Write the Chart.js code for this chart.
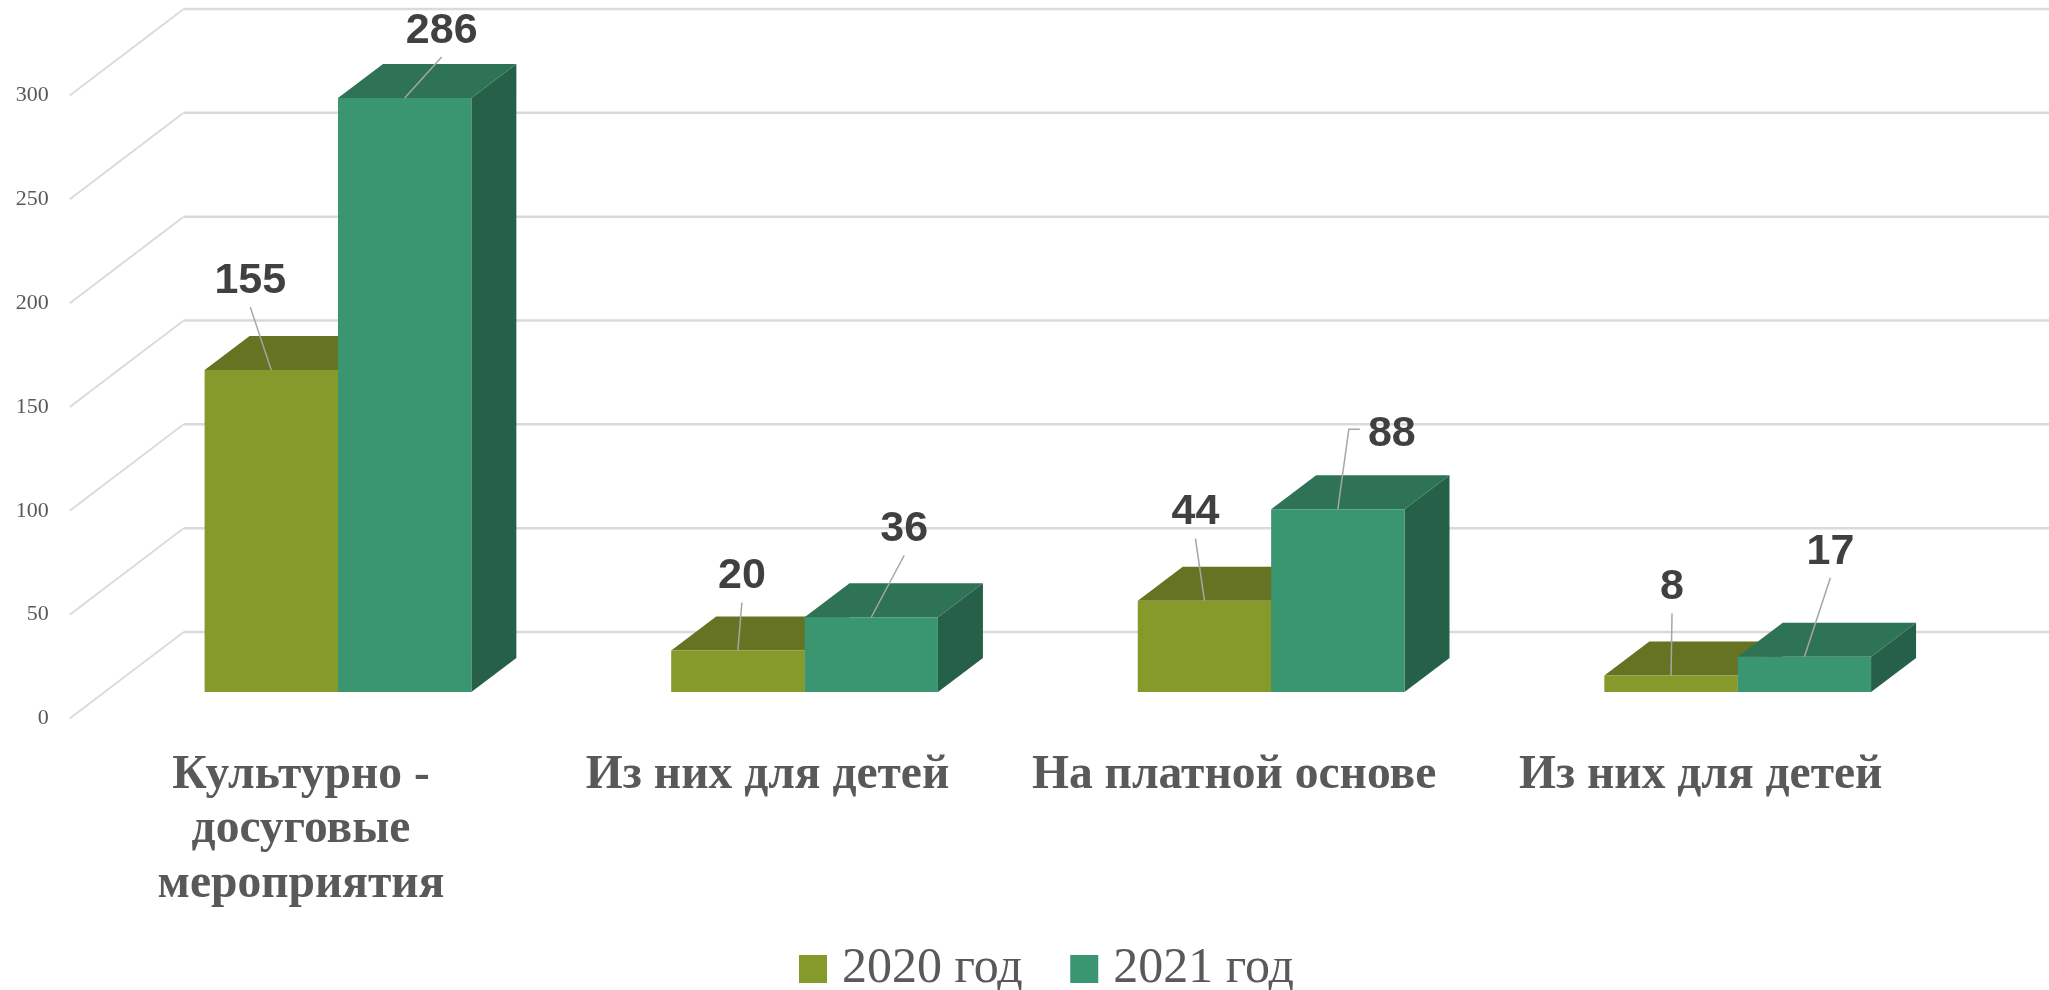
<!DOCTYPE html>
<html lang="ru">
<head>
<meta charset="utf-8">
<title>Мероприятия</title>
<script src="https://cdn.jsdelivr.net/npm/chart.js@4"></script>
<style>
  html, body { margin: 0; padding: 0; background: #fff; }
  canvas { display: block; }
</style>
</head>
<body>
<canvas id="chart" width="2049" height="990"></canvas>
<script>
const categories = [
    ['Культурно -', 'досуговые', 'мероприятия'],
    'Из них для детей',
    'На платной основе',
    'Из них для детей'
];
const seriesNames = ['2020 год', '2021 год'];
const values2020 = [155, 20, 44, 8];
const values2021 = [286, 36, 88, 17];

// colours: front, top, side
const faces2020 = ['#859A2B', '#657322', '#55621C'];
const faces2021 = ['#3A9571', '#2E7355', '#266048'];

// where each value label sits relative to the top of its bar
const labelShift2020 = [[-21, -91], [4, -76], [-9, -90], [1, -90]];
const labelShift2021 = [[37, -69], [33, -90], [54, -77], [26, -107]];

// 3D look of the old chart
const barDepth = { x: 45, y: 34 };
const wallFront = { x: -35, y: 26.5 };
const wallBack = { x: 79, y: -60 };

function poly(ctx, color, pts) {
    ctx.fillStyle = color;
    ctx.beginPath();
    pts.forEach((p, i) => i ? ctx.lineTo(p[0], p[1]) : ctx.moveTo(p[0], p[1]));
    ctx.closePath();
    ctx.fill();
}

const fake3d = {
    id: 'fake3d',
    afterLayout(chart) {
        // legend sits to the right of centre and low on the page
        chart.legend.left += 66;
        chart.legend.right += 66;
        chart.legend.top += 14;
        chart.legend.bottom += 14;
        // three-line label must not be clipped by the axis box
        chart.scales.x.bottom = chart.height;
    },
    beforeDatasetsDraw(chart) {
        const { ctx, scales, chartArea } = chart;

        // grid: floor lines going back, then wall lines
        ctx.save();
        ctx.strokeStyle = '#DADADA';
        scales.y.ticks.forEach(t => {
            const py = scales.y.getPixelForValue(t.value);
            ctx.lineWidth = 1.8;
            ctx.beginPath();
            ctx.moveTo(chartArea.left + wallFront.x, py + wallFront.y);
            ctx.lineTo(chartArea.left + wallBack.x, py + wallBack.y);
            ctx.stroke();
            ctx.lineWidth = 2.5;
            ctx.beginPath();
            ctx.moveTo(chartArea.left + wallBack.x, py + wallBack.y);
            ctx.lineTo(chart.width, py + wallBack.y);
            ctx.stroke();
        });

        // tops and sides, 2020 first so 2021 covers it
        [faces2020, faces2021].forEach((faces, d) => {
            chart.getDatasetMeta(d).data.forEach(bar => {
                const l = bar.x - bar.width / 2, r = bar.x + bar.width / 2;
                const dx = barDepth.x, dy = barDepth.y;
                poly(ctx, faces[2], [[r, bar.y], [r + dx, bar.y - dy], [r + dx, bar.base - dy], [r, bar.base]]);
                poly(ctx, faces[1], [[l, bar.y], [l + dx, bar.y - dy], [r + dx, bar.y - dy], [r, bar.y]]);
            });
        });
        ctx.restore();
    },
    afterDatasetsDraw(chart) {
        const { ctx } = chart;
        ctx.save();
        ctx.font = 'bold 43px "Liberation Sans"';
        ctx.textAlign = 'center';
        ctx.textBaseline = 'middle';
        [labelShift2020, labelShift2021].forEach((shifts, d) => {
            chart.getDatasetMeta(d).data.forEach((bar, i) => {
                const lx = bar.x + shifts[i][0], ly = bar.y + shifts[i][1];

                // leader line; the far label gets a small elbow
                ctx.strokeStyle = '#A6A6A6';
                ctx.lineWidth = 1.5;
                ctx.beginPath();
                ctx.moveTo(bar.x, bar.y);
                if (shifts[i][0] > 50) {
                    ctx.lineTo(lx - 43, ly - 3);
                    ctx.lineTo(lx - 32, ly - 3);
                } else {
                    ctx.lineTo(lx, ly + 28);
                }
                ctx.stroke();

                ctx.fillStyle = '#404040';
                ctx.fillText(chart.data.datasets[d].data[i], lx, ly + 2);
            });
        });
        ctx.restore();
    }
};

new Chart(document.getElementById('chart').getContext('2d'), {
    type: 'bar',
    data: {
        labels: categories,
        datasets: [
            { label: seriesNames[0], data: values2020, backgroundColor: faces2020[0] },
            { label: seriesNames[1], data: values2021, backgroundColor: faces2021[0] }
        ]
    },
    options: {
        responsive: false,
        animation: false,
        devicePixelRatio: 1,
        layout: { padding: { top: 69, left: 0, right: 78, bottom: 0 } },
        datasets: { bar: { barPercentage: 1, categoryPercentage: 0.5717 } },
        plugins: {
            tooltip: { enabled: false },
            legend: {
                position: 'bottom',
                labels: {
                    // small box with a fat border: keeps the text close to the swatch
                    boxWidth: 8,
                    boxHeight: 8,
                    padding: 57.5,
                    color: '#595959',
                    font: { family: '"Liberation Serif"', size: 50 },
                    generateLabels(chart) {
                        return Chart.defaults.plugins.legend.labels.generateLabels(chart)
                            .map(item => ({ ...item, strokeStyle: item.fillStyle, lineWidth: 20 }));
                    }
                }
            }
        },
        scales: {
            x: {
                grid: { display: false },
                border: { display: false },
                ticks: {
                    autoSkip: false,
                    maxRotation: 0,
                    labelOffset: -37,
                    padding: 49,
                    color: '#595959',
                    font: { family: '"Liberation Serif"', size: 47.5, weight: 'bold', lineHeight: 1.14 }
                },
                afterFit(s) { s.height = 990 - 692 - s.chart.legend.height; }
            },
            y: {
                min: 0,
                max: 300,
                grid: { display: false },
                border: { display: false },
                ticks: {
                    stepSize: 50,
                    labelOffset: 26.5,
                    padding: 48,
                    color: '#595959',
                    font: { family: '"Liberation Serif"', size: 22 }
                },
                afterFit(s) { s.width = 104.7; }
            }
        }
    },
    plugins: [fake3d]
});
</script>
</body>
</html>
